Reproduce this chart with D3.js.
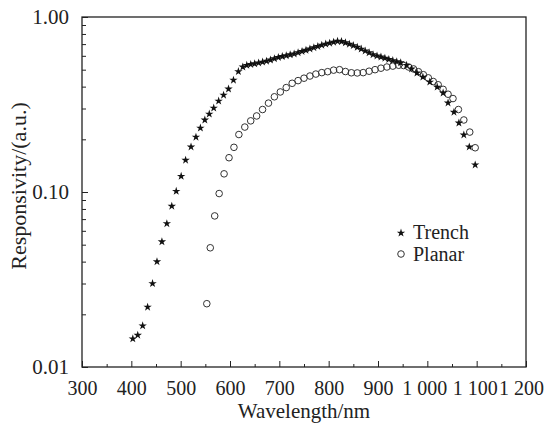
<!DOCTYPE html>
<html>
<head>
<meta charset="utf-8">
<script src="https://cdn.jsdelivr.net/npm/d3@7"></script>
<style>
  body { margin: 0; background: #fff; }
  svg text { font-family: "Liberation Serif", "DejaVu Serif", serif !important; fill: #222; }
</style>
</head>
<body>
<div id="chart"></div>
<script>
// Trench (stars)
var trenchX = [403, 413, 423, 433, 443, 452, 462, 472, 482, 491, 501, 510, 521, 531, 540, 549, 558, 567, 577, 587, 597, 607, 617,
  626, 634, 642, 650, 658, 666, 674, 682, 690, 698, 706, 714, 722, 730, 738, 746, 754, 762, 770, 778, 786, 794, 802, 810, 818,
  826, 834, 842, 850, 858, 866, 874, 882, 890, 898, 906, 914, 922, 930, 938, 946,
  958, 968, 979, 991, 1005, 1020, 1032, 1042, 1054, 1064, 1074, 1085, 1097]
var trenchY = [0.0145, 0.0152, 0.0172, 0.022, 0.030, 0.040, 0.052, 0.066, 0.083, 0.101, 0.123, 0.152, 0.181, 0.206, 0.232, 0.258, 0.279, 0.302, 0.331, 0.358, 0.388, 0.436, 0.488,
  0.518, 0.530, 0.536, 0.541, 0.547, 0.553, 0.560, 0.568, 0.578, 0.588, 0.595, 0.602, 0.609, 0.616, 0.626, 0.636, 0.646, 0.657, 0.668, 0.679, 0.691, 0.701, 0.709, 0.718, 0.727,
  0.725, 0.713, 0.700, 0.687, 0.672, 0.656, 0.640, 0.625, 0.610, 0.600, 0.591, 0.582, 0.573, 0.564, 0.556, 0.548,
  0.530, 0.505, 0.479, 0.454, 0.425, 0.398, 0.368, 0.323, 0.286, 0.248, 0.212, 0.181, 0.143]

// Planar (open circles)
var planarX = [553, 560, 569, 578, 588, 598, 608, 618, 630, 642, 654, 666, 678, 690, 702, 714, 726, 738, 750, 762, 774, 786, 798,
  810, 822, 834, 846, 858, 870, 882, 894, 906, 918, 930, 942, 952, 962, 972, 982, 992, 1002, 1012, 1022, 1032, 1042, 1052,
  1063, 1074, 1086, 1097]
var planarY = [0.023, 0.048, 0.073, 0.098, 0.127, 0.157, 0.180, 0.213, 0.235, 0.255, 0.272, 0.296, 0.322, 0.350, 0.373, 0.395, 0.418, 0.433, 0.447, 0.460, 0.472, 0.481, 0.487,
  0.497, 0.500, 0.488, 0.480, 0.479, 0.481, 0.490, 0.500, 0.510, 0.518, 0.524, 0.530, 0.528, 0.518, 0.505, 0.487, 0.468, 0.449, 0.428, 0.410, 0.386, 0.362, 0.342,
  0.296, 0.258, 0.220, 0.179]

var xTicks = [300, 400, 500, 600, 700, 800, 900, 1000, 1100, 1200]
var xTickLabels = ["300", "400", "500", "600", "700", "800", "900", "1 000", "1 100", "1 200"]
var yTicks = [0.01, 0.1, 1]
var yTickLabels = ["0.01", "0.10", "1.00"]

var margin = {top: 17, right: 22, bottom: 57, left: 82},
    width = 548 - margin.left - margin.right,
    height = 424 - margin.top - margin.bottom;

var svg = d3.select("#chart")
  .append("svg")
    .attr("width", 548)
    .attr("height", 424)
  .append("g")
    .attr("transform", "translate(" + margin.left + "," + margin.top + ")");

var x = d3.scaleLinear().domain([300, 1200]).range([0, width]);
var y = d3.scaleLog().domain([0.01, 1]).range([height, 0]);

// minor ticks
var xMinor = d3.range(350, 1200, 100);
var yMinor = [];
[0.01, 0.1].forEach(function(d) { for (var i = 2; i < 10; i++) yMinor.push(d * i); });

svg.append("g")
  .attr("transform", "translate(0," + height + ")")
  .call(d3.axisBottom(x).tickValues(xMinor).tickSize(-3).tickFormat(""))
  .call(function(g) { g.select(".domain").remove(); })
  .selectAll("line").attr("stroke", "#222");

// labels past 900 are nudged left a little, like the crowded original
var labelShift = {1000: -3, 1100: -2, 1200: -5};
svg.append("g")
  .attr("transform", "translate(0," + height + ")")
  .call(d3.axisBottom(x).tickValues(xTicks).tickSize(-6).tickPadding(14)
    .tickFormat(function(d, i) { return xTickLabels[i]; }))
  .call(function(g) {
    g.attr("font-family", null).attr("font-size", null);
    g.select(".domain").remove();
    g.selectAll("line").attr("stroke", "#222");
    g.selectAll("text").style("font-size", "20px").attr("fill", "#222")
      .attr("dx", function(d) { return labelShift[d] || 0; });
  });

svg.append("g")
  .call(d3.axisLeft(y).tickValues(yMinor).tickSize(-4).tickFormat(""))
  .call(function(g) { g.select(".domain").remove(); })
  .selectAll("line").attr("stroke", "#222");

svg.append("g")
  .call(d3.axisLeft(y).tickValues(yTicks).tickSize(-6).tickPadding(13)
    .tickFormat(function(d, i) { return yTickLabels[i]; }))
  .call(function(g) {
    g.attr("font-family", null).attr("font-size", null);
    g.select(".domain").remove();
    g.selectAll("line").attr("stroke", "#222");
    g.selectAll("text").style("font-size", "21px").attr("fill", "#222");
  });

// frame
svg.append("rect")
  .attr("x", 0).attr("y", 0)
  .attr("width", width).attr("height", height)
  .attr("fill", "none")
  .attr("stroke", "#222")
  .attr("stroke-width", 1.3);

var trench = trenchX.map(function(d, i) { return {x: d, y: trenchY[i]}; });
var planar = planarX.map(function(d, i) { return {x: d, y: planarY[i]}; });

svg.selectAll(".planar")
  .data(planar)
  .enter()
  .append("circle")
    .attr("cx", function(d) { return x(d.x); })
    .attr("cy", function(d) { return y(d.y); })
    .attr("r", 3.3)
    .attr("fill", "none")
    .attr("stroke", "#333")
    .attr("stroke-width", 1);

var star = d3.symbol().type(d3.symbolStar).size(22);
svg.selectAll(".trench")
  .data(trench)
  .enter()
  .append("path")
    .attr("d", star)
    .attr("transform", function(d) { return "translate(" + x(d.x) + "," + y(d.y) + ")"; })
    .attr("fill", "#111");

// legend
svg.append("path")
  .attr("d", star)
  .attr("transform", "translate(" + (401 - margin.left) + "," + (233 - margin.top) + ")")
  .attr("fill", "#111");
svg.append("text")
  .attr("x", 413 - margin.left).attr("y", 239 - margin.top)
  .style("font-size", "20px")
  .text("Trench");
svg.append("circle")
  .attr("cx", 401 - margin.left).attr("cy", 254 - margin.top)
  .attr("r", 3.3)
  .attr("fill", "none").attr("stroke", "#333");
svg.append("text")
  .attr("x", 413 - margin.left).attr("y", 261 - margin.top)
  .style("font-size", "20px")
  .text("Planar");

// axis titles
svg.append("text")
  .attr("text-anchor", "middle")
  .attr("x", width / 2)
  .attr("y", height + 51)
  .style("font-size", "21px")
  .text("Wavelength/nm");

svg.append("text")
  .attr("text-anchor", "middle")
  .attr("transform", "translate(" + (26 - margin.left) + "," + (186 - margin.top) + ")rotate(-90)")
  .style("font-size", "22px")
  .text("Responsivity/(a.u.)");
</script>
</body>
</html>
